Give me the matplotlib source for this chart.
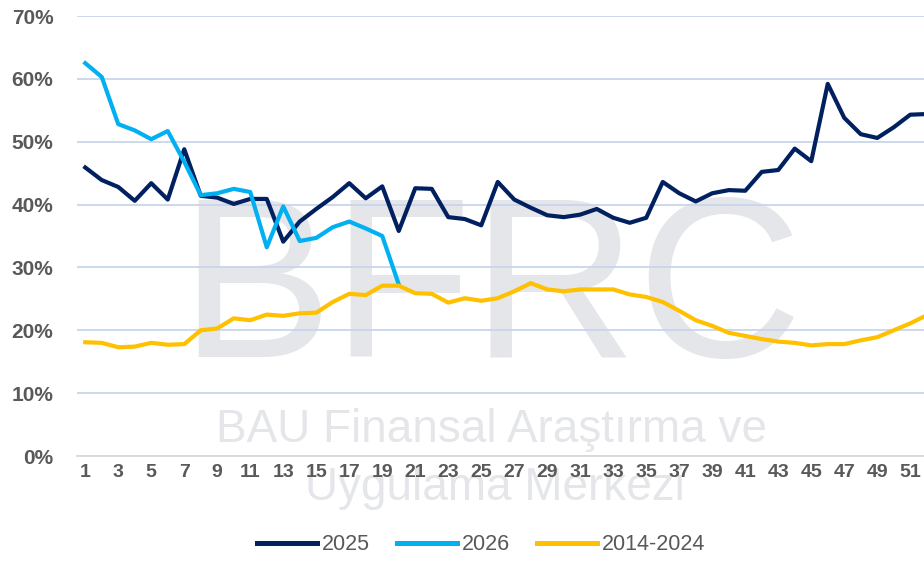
import matplotlib.pyplot as plt
import numpy as np
from matplotlib.ticker import FuncFormatter

plt.rcParams['font.family'] = ['Liberation Sans', 'DejaVu Sans']

weeks = list(range(1, 53))

s2025 = [45.9, 43.9, 42.8, 40.6, 43.4, 40.8, 48.8, 41.4, 41.1, 40.1,
         40.9, 40.9, 34.1, 37.3, 39.3, 41.2, 43.4, 41.0, 42.9, 35.8,
         42.6, 42.5, 38.0, 37.7, 36.7, 43.6, 40.8, 39.5, 38.3, 38.0,
         38.4, 39.3, 37.9, 37.1, 37.9, 43.6, 41.8, 40.5, 41.8, 42.3,
         42.2, 45.2, 45.5, 48.9, 46.9, 59.2, 53.8, 51.2, 50.6, 52.3,
         54.3, 54.4]

s2026 = [62.5, 60.3, 52.8, 51.8, 50.4, 51.7, 46.8, 41.5, 41.8, 42.5,
         42.0, 33.2, 39.7, 34.2, 34.7, 36.4, 37.3, 36.2, 35.0, 27.3]

s_hist = [18.1, 18.0, 17.3, 17.4, 18.0, 17.7, 17.8, 20.0, 20.3, 21.9,
          21.6, 22.5, 22.3, 22.7, 22.8, 24.5, 25.8, 25.6, 27.1, 27.1,
          25.9, 25.8, 24.4, 25.1, 24.7, 25.1, 26.2, 27.5, 26.5, 26.2,
          26.5, 26.5, 26.5, 25.7, 25.3, 24.5, 23.1, 21.6, 20.7, 19.6,
          19.1, 18.6, 18.2, 18.0, 17.6, 17.8, 17.8, 18.4, 18.9, 20.0,
          21.1, 22.4]

yticks = [0, 10, 20, 30, 40, 50, 60, 70]

fig = plt.figure(figsize=(9.24, 5.62), dpi=100)
ax = fig.add_axes([77 / 924, 106 / 562, 858 / 924, 440 / 562])
ax.patch.set_visible(False)

# watermark (logo text behind the plot)
wm = '#e4e6ea'
fig.text(491 / 924, 1 - 357 / 562, 'BFRC', fontsize=165, color=wm, ha='center',
         va='baseline', zorder=-1)
fig.text(492 / 924, 1 - 442 / 562, 'BAU Finansal Araştırma ve', fontsize=33, color=wm,
         ha='center', va='baseline', zorder=-1)
fig.text(495 / 924, 1 - 500 / 562, 'Uygulama Merkezi', fontsize=33, color=wm,
         ha='center', va='baseline', zorder=-1)

ax.plot(weeks, s2025, color='#002060', lw=3.0, label='2025', zorder=3)
ax.plot(weeks[:len(s2026)], s2026, color='#00b0f0', lw=3.0, label='2026', zorder=3)
ax.plot(weeks, s_hist, color='#ffc000', lw=3.0, label='2014-2024', zorder=3)

ax.set_xlim(0.5, 52.5)
ax.set_ylim(0, 70)
ax.set_yticks(yticks)
ax.yaxis.set_major_formatter(FuncFormatter(lambda v, p: f'{v:.0f}%'))
ax.set_xticks(weeks[::2])
ax.grid(axis='y', color='#c8d5ec', lw=1.3)
ax.set_axisbelow(True)
for sp in ['top', 'right', 'left']:
    ax.spines[sp].set_visible(False)
ax.spines['bottom'].set_color('#d9d9d9')
ax.spines['bottom'].set_linewidth(1.3)
ax.tick_params(axis='x', length=0, colors='#595959', labelsize=14, pad=6)
ax.tick_params(axis='y', length=0, colors='#595959', labelsize=15, pad=17)
for lab in ax.get_xticklabels() + ax.get_yticklabels():
    lab.set_fontweight('bold')

leg = fig.legend(loc='center', bbox_to_anchor=(0.5206, 17 / 562), ncol=3,
                 frameon=False, fontsize=15.5, handlelength=2.8, handletextpad=0.23,
                 columnspacing=1.25)
for t in leg.get_texts():
    t.set_color('#595959')
for h in leg.get_lines():
    h.set_linewidth(3.6)

fig.savefig('out.png', dpi=100)
plt.close(fig)
